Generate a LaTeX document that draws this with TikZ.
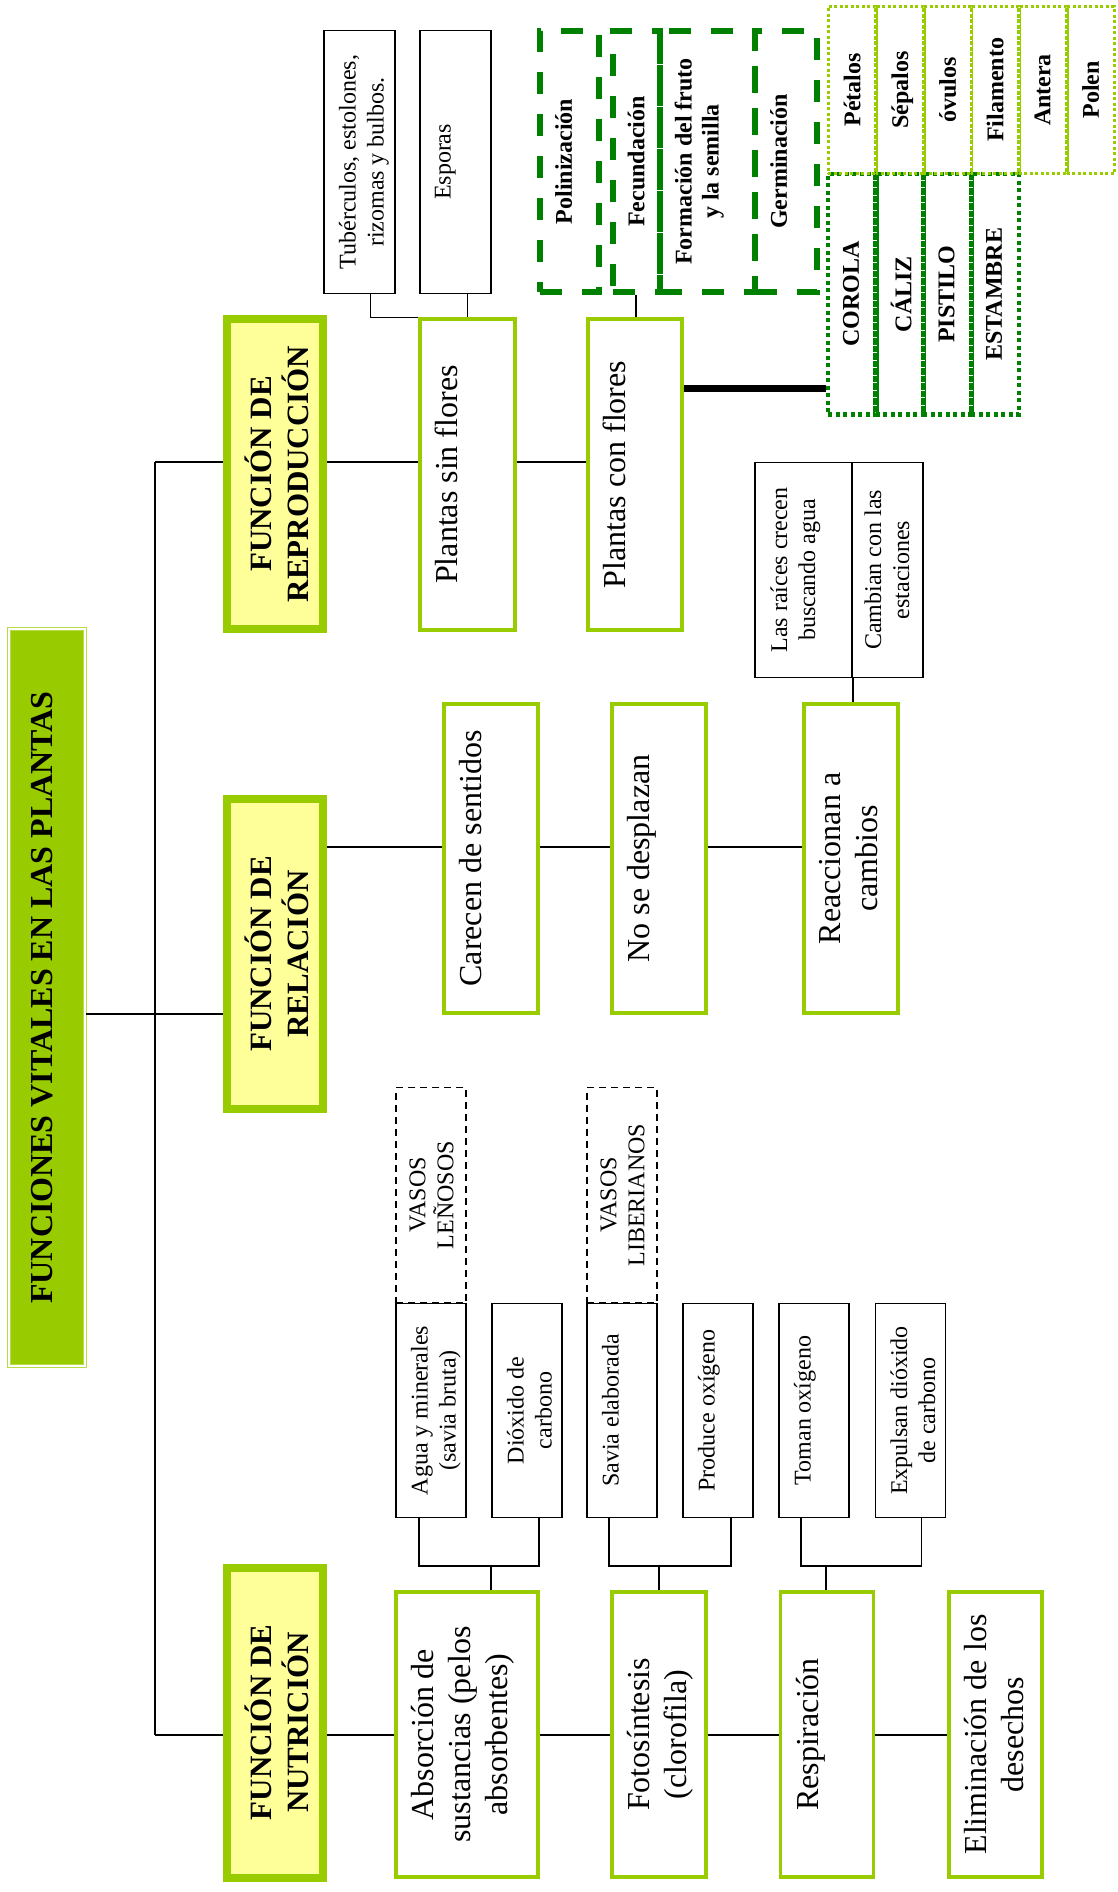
\documentclass[tikz,border=0pt]{standalone}
\usepackage{fontspec}
\setmainfont{Liberation Serif}
\usepackage{tikz}

\definecolor{verdeclaro}{HTML}{99CC00}
\definecolor{verdeosc}{HTML}{008000}
\definecolor{amarillo}{HTML}{FFFF99}

\newcommand{\txtL}{\fontsize{32}{37}\selectfont}
\newcommand{\txtS}{\fontsize{24}{28}\selectfont}
\newcommand{\txtF}{\fontsize{31}{37}\selectfont\bfseries}
\newcommand{\txtB}{\fontsize{24}{27}\selectfont\bfseries}
\newcommand{\txtT}{\fontsize{32}{37}\selectfont\bfseries}

\tikzset{
  titulo/.style={draw=verdeclaro!70!white, double=white, double distance=1.2pt,
    line width=1.2pt, fill=verdeclaro, inner sep=0pt,
    minimum width=76pt, minimum height=737pt},
  funcion/.style={draw=verdeclaro, fill=amarillo, line width=8pt, inner sep=0pt,
    minimum width=96pt, minimum height=310pt},
  cajagrande/.style={draw=verdeclaro, fill=white, line width=3.5pt, inner sep=0pt,
    minimum width=95pt, minimum height=311pt},
  cajita/.style={draw=black, fill=white, line width=1.5pt, inner sep=0pt,
    minimum width=70pt, minimum height=214pt},
  vaso/.style={cajita, dash pattern=on 7pt off 5pt},
  fase/.style={draw=verdeosc, line width=6pt, dash pattern=on 22pt off 20pt,
    inner sep=0pt, minimum height=261pt},
  organo/.style={draw=verdeosc, line width=4.5pt, dash pattern=on 4pt off 3.5pt,
    inner sep=0pt, minimum width=47.7pt, minimum height=240.5pt},
  pieza/.style={draw=verdeclaro, line width=3pt, dash pattern=on 3pt off 2.5pt,
    inner sep=0pt, minimum width=47.7pt, minimum height=167pt},
  rotulo/.style={rotate=90, anchor=north, inner sep=0pt, align=center},
  rotL/.style={rotulo, font=\txtL},
  rotS/.style={rotulo, font=\txtS},
  rotB/.style={rotulo, font=\txtB},
  rotF/.style={rotate=90, inner sep=0pt, align=center, font=\txtF},
  linea/.style={draw=black, line width=1.5pt},
  linea gruesa/.style={draw=black, line width=7pt}
}

\begin{document}
\begin{tikzpicture}[x=1pt,y=-1pt]
\useasboundingbox (0,0) rectangle (1117,1892);

% niveles de las lineas
\coordinate (nRep) at (0,462);
\coordinate (nTit) at (0,1014);
\coordinate (nRel) at (0,847);
\coordinate (nNut) at (0,1735);
\coordinate (nFlor) at (0,388);
\coordinate (tronco1) at (155,462);
\coordinate (tronco2) at (155,1735);
\coordinate (ramaA) at (491,1566);
\coordinate (ramaB) at (659,1566);
\coordinate (ramaC) at (826,1566);

% titulo y funciones
\node[titulo] (titulo) at (47,997.5) {};
\node[rotulo, font=\txtT] (t-titulo) at ([xshift=23pt]titulo.west) {FUNCIONES VITALES EN LAS PLANTAS};
\node[funcion] (repro) at (275,474) {};
\node[rotF] (t-repro) at ([xshift=2pt]repro.center) {FUNCIÓN DE\\REPRODUCCIÓN};
\node[funcion] (relac) at (275,954) {};
\node[rotF] (t-relac) at ([xshift=2pt]relac.center) {FUNCIÓN DE\\RELACIÓN};
\node[funcion] (nutri) at (275,1722.5) {};
\node[rotF] (t-nutri) at ([xshift=2pt]nutri.center) {FUNCIÓN DE\\NUTRICIÓN};

% reproduccion
\node[cajagrande] (sinfl) at (467.5,474.5) {};
\node[rotL] (t-sinfl) at ([xshift=17pt]sinfl.west) {Plantas sin flores};
\node[cajagrande, minimum width=94pt] (confl) at (635,474.5) {};
\node[rotL] (t-confl) at ([xshift=17pt]confl.west) {Plantas con flores};
\node[cajita, minimum width=71pt, minimum height=263pt] (tuber) at (359.5,162) {};
\node[rotS] (t-tuber) at ([xshift=15.5pt]tuber.west) {Tubérculos, estolones,\\rizomas y bulbos.};
\node[cajita, minimum width=71pt, minimum height=263pt] (esporas) at (455.5,162) {};
\node[rotS] (t-esporas) at ([xshift=15.5pt]esporas.west) {Esporas};

\node[fase, minimum width=59pt] (poliniz) at (569.5,161.5) {};
\node[rotB] (t-poliniz) at ([xshift=18pt]poliniz.west) {Polinización};
\node[fase, minimum width=47pt] (fecund) at (636,161.5) {};
\node[rotB] (t-fecund) at ([xshift=18pt]fecund.west) {Fecundación};
\node[fase, minimum width=95pt] (formac) at (707,161.5) {};
\node[rotB] (t-formac) at ([xshift=18pt]formac.west) {Formación del fruto\\y la semilla};
\node[fase, minimum width=62pt] (germin) at (786,161.5) {};
\node[rotB] (t-germin) at ([xshift=18pt]germin.west) {Germinación};

\foreach \nom/\txt [count=\i from 0] in {corola/COROLA, caliz/CÁLIZ, pistilo/PISTILO, estambre/ESTAMBRE}{
  \node[organo] (\nom) at ({851.85+47.7*\i},294.25) {};
  \node[rotB] (t-\nom) at ([xshift=17pt]\nom.west) {\txt};
}
\foreach \nom/\txt [count=\i from 0] in {petalos/Pétalos, sepalos/Sépalos, ovulos/óvulos, filamento/Filamento, antera/Antera, polen/Polen}{
  \node[pieza] (\nom) at ({851.85+47.7*\i},90) {};
  \node[rotB] (t-\nom) at ([xshift=17pt]\nom.west) {\txt};
}
\foreach \a in {corola,caliz,pistilo}
  \draw[verdeosc, line width=1.5pt] (\a.north east) -- (\a.south east);
\foreach \a in {petalos,sepalos,ovulos,filamento,antera}
  \draw[verdeclaro, line width=1.5pt] (\a.north east) -- (\a.south east);

% relacion
\node[cajagrande, minimum width=94pt, minimum height=309pt] (carecen) at (491,858.5) {};
\node[rotL] (t-carecen) at ([xshift=17pt]carecen.west) {Carecen de sentidos};
\node[cajagrande, minimum width=94pt, minimum height=309pt] (nodespl) at (659,858.5) {};
\node[rotL] (t-nodespl) at ([xshift=17pt]nodespl.west) {No se desplazan};
\node[cajagrande, minimum width=94pt, minimum height=309pt] (reacc) at (851,858.5) {};
\node[rotL] (t-reacc) at ([xshift=17pt]reacc.west) {Reaccionan a\\cambios};
\node[cajita, minimum width=97pt, minimum height=215pt] (raices) at (803.5,570) {};
\node[rotS] (t-raices) at ([xshift=16pt]raices.west) {Las raíces crecen\\buscando agua};
\node[cajita, minimum width=71pt, minimum height=215pt] (cambian) at (887.5,570) {};
\node[rotS] (t-cambian) at ([xshift=13pt]cambian.west) {Cambian con las\\estaciones};

% nutricion
\node[cajagrande, minimum width=142pt, minimum height=285pt] (absor) at (467,1734.5) {};
\node[rotL] (t-absor) at ([xshift=17pt]absor.west) {Absorción de\\sustancias (pelos\\absorbentes)};
\node[cajagrande, minimum width=94pt, minimum height=285pt] (foto) at (659,1734.5) {};
\node[rotL] (t-foto) at ([xshift=17pt]foto.west) {Fotosíntesis\\(clorofila)};
\node[cajagrande, minimum width=93pt, minimum height=285pt] (resp) at (827,1734.5) {};
\node[rotL] (t-resp) at ([xshift=17pt]resp.west) {Respiración};
\node[cajagrande, minimum width=93pt, minimum height=285pt] (elim) at (995.5,1734.5) {};
\node[rotL] (t-elim) at ([xshift=17pt]elim.west) {Eliminación de los\\desechos};

\node[cajita] (agua) at (431,1410.5) {};
\node[rotS] (t-agua) at ([xshift=15.5pt]agua.west) {Agua y minerales\\(savia bruta)};
\node[cajita] (diox) at (527,1410.5) {};
\node[rotS] (t-diox) at ([xshift=15.5pt]diox.west) {Dióxido de\\carbono};
\node[cajita] (savia) at (622,1410.5) {};
\node[rotS] (t-savia) at ([xshift=15.5pt]savia.west) {Savia elaborada};
\node[cajita] (produce) at (718,1410.5) {};
\node[rotS] (t-produce) at ([xshift=15.5pt]produce.west) {Produce oxígeno};
\node[cajita] (toman) at (814,1410.5) {};
\node[rotS] (t-toman) at ([xshift=15.5pt]toman.west) {Toman oxígeno};
\node[cajita] (expulsan) at (910.5,1410.5) {};
\node[rotS] (t-expulsan) at ([xshift=15.5pt]expulsan.west) {Expulsan dióxido\\de carbono};
\node[vaso, minimum height=215pt] (lenosos) at (431,1195) {};
\node[rotS] (t-lenosos) at ([xshift=14pt]lenosos.west) {VASOS\\LEÑOSOS};
\node[vaso, minimum height=215pt] (liberianos) at (622,1195) {};
\node[rotS] (t-liberianos) at ([xshift=14pt]liberianos.west) {VASOS\\LIBERIANOS};

% conexiones
\draw[linea] (tronco1) -- (tronco2);
\draw[linea] (tronco1) -- (tronco1 -| repro.west);
\draw[linea] (repro.east |- nRep) -- (sinfl.west |- nRep);
\draw[linea] (sinfl.east |- nRep) -- (confl.west |- nRep);
\draw[linea] ([xshift=11pt]tuber.south) |- (sinfl.north west);
\draw[linea] (sinfl.north |- esporas.south) -- (sinfl.north);
\draw[linea] (fecund.south) -- (fecund.south |- confl.north);
\draw[linea gruesa] (confl.east |- nFlor) -- (corola.west |- nFlor);

\draw[linea] (titulo.east |- nTit) -- (relac.west |- nTit);
\draw[linea] (relac.east |- nRel) -- (carecen.west |- nRel);
\draw[linea] (carecen.east |- nRel) -- (nodespl.west |- nRel);
\draw[linea] (nodespl.east |- nRel) -- (reacc.west |- nRel);
\draw[linea] (raices.south east) -- (raices.south east |- reacc.north);

\draw[linea] (tronco2) -- (nutri.west |- nNut);
\draw[linea] (nutri.east |- nNut) -- (absor.west |- nNut);
\draw[linea] (absor.east |- nNut) -- (foto.west |- nNut);
\draw[linea] (foto.east |- nNut) -- (resp.west |- nNut);
\draw[linea] (resp.east |- nNut) -- (elim.west |- nNut);

\draw[linea] ([xshift=-12pt]agua.south) |- (ramaA) -| ([xshift=12pt]diox.south);
\draw[linea] (ramaA) -- (ramaA |- absor.north);
\draw[linea] ([xshift=-13pt]savia.south) |- (ramaB) -| ([xshift=13pt]produce.south);
\draw[linea] (ramaB) -- (ramaB |- foto.north);
\draw[linea] ([xshift=-13pt]toman.south) |- (ramaC) -| ([xshift=11pt]expulsan.south);
\draw[linea] (ramaC) -- (ramaC |- resp.north);
\end{tikzpicture}
\end{document}
